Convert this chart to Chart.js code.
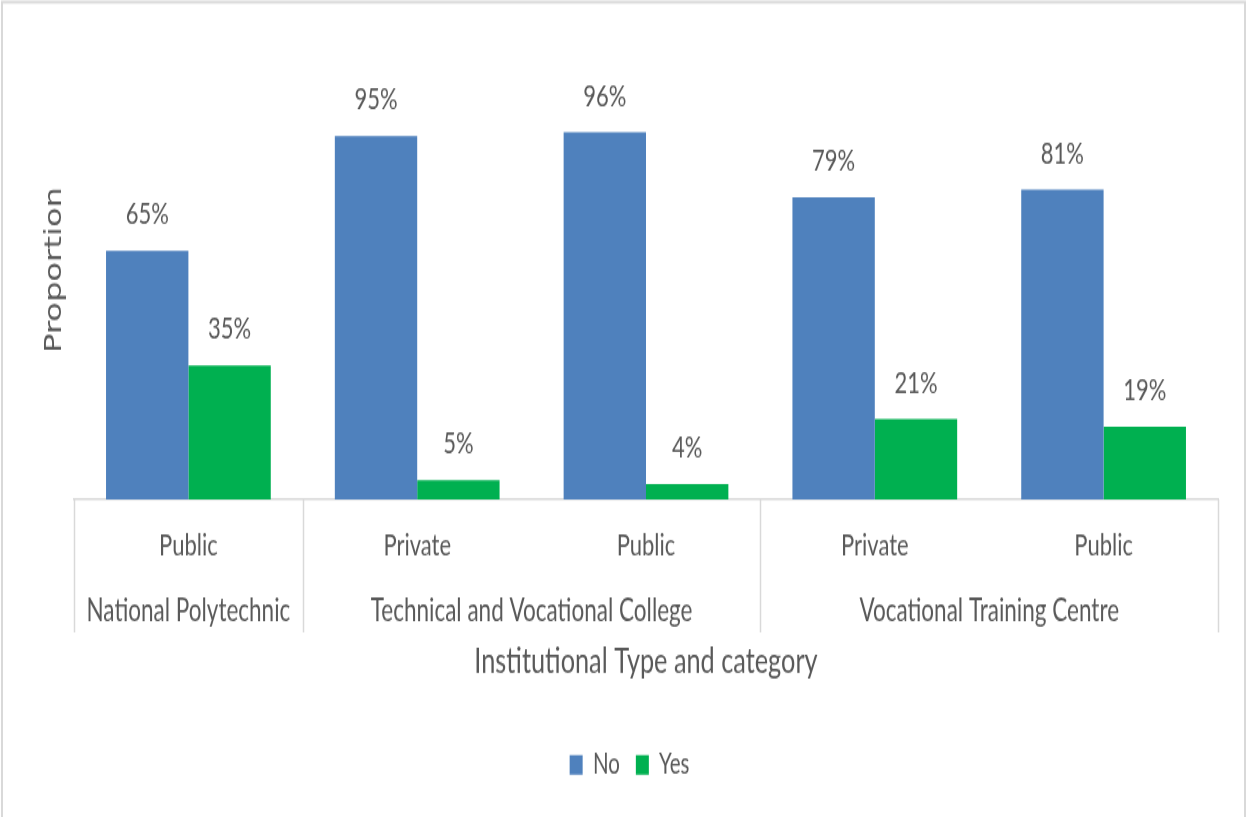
<!DOCTYPE html>
<html>
<head>
<meta charset="utf-8">
<title>Institutional Type and category</title>
<script src="https://cdn.jsdelivr.net/npm/chart.js@4"></script>
<style>
  html, body { margin: 0; padding: 0; background: #fff; overflow: hidden; }
  /* drawn at 584px tall, shown stretched to 817px */
  #chart { display: block; width: 1247px; height: 817px; }
</style>
</head>
<body>
<canvas id="chart" width="1247" height="584" style="width:1247px;height:817px"></canvas>
<script>
// categories, groups and series
const subCategories = ["Public", "Private", "Public", "Private", "Public"];
const groupNames = ["National Polytechnic", "Technical and Vocational College", "Vocational Training Centre"];
const groupSizes = [1, 2, 2];
const noValues = [65, 95, 96, 79, 81];
const yesValues = [35, 5, 4, 21, 19];

const textColor = "#595959";
const lineColor = "#d9d9d9";
const fontFamily = "Lato, 'Liberation Sans', sans-serif";

Chart.defaults.font.family = fontFamily;

// white page with a thin frame (top, left, right)
const frame = {
    id: "frame",
    beforeDraw(chart) {
        const ctx = chart.ctx;
        const w = chart.width;
        ctx.save();
        ctx.fillStyle = "#fff";
        ctx.fillRect(0, 0, w, chart.height);
        ctx.strokeStyle = lineColor;
        ctx.lineWidth = 2;
        ctx.beginPath();
        ctx.moveTo(2, chart.height);
        ctx.lineTo(2, 1.5);
        ctx.lineTo(w - 2, 1.5);
        ctx.lineTo(w - 2, chart.height);
        ctx.stroke();
        ctx.restore();
    }
};

// percent values over each bar
const barValues = {
    id: "barValues",
    afterDatasetsDraw(chart) {
        const ctx = chart.ctx;
        ctx.save();
        ctx.fillStyle = textColor;
        ctx.font = "22px " + fontFamily;
        ctx.textAlign = "center";
        ctx.textBaseline = "middle";
        chart.data.datasets.forEach((ds, i) => {
            chart.getDatasetMeta(i).data.forEach((bar, j) => {
                ctx.fillText(ds.data[j] + "%", bar.x, bar.y - 26);
            });
        });
        ctx.restore();
    }
};

// group names under the category labels, with dividers
const groupAxis = {
    id: "groupAxis",
    afterDraw(chart) {
        const ctx = chart.ctx;
        const x = chart.scales.x;
        const area = chart.chartArea;
        const edge = (i) => {
            if (i <= 0) return area.left;
            if (i >= subCategories.length) return area.right;
            return (x.getPixelForValue(i - 1) + x.getPixelForValue(i)) / 2;
        };
        ctx.save();
        ctx.strokeStyle = lineColor;
        ctx.lineWidth = 1.5;
        ctx.fillStyle = textColor;
        ctx.font = "22.5px " + fontFamily;
        ctx.textAlign = "center";
        ctx.textBaseline = "middle";
        let start = 0;
        const cuts = [0];
        groupNames.forEach((name, g) => {
            const end = start + groupSizes[g];
            ctx.fillText(name, (edge(start) + edge(end)) / 2, area.bottom + 80);
            cuts.push(end);
            start = end;
        });
        cuts.forEach(c => {
            const px = Math.round(edge(c)) + 0.5;
            ctx.beginPath();
            ctx.moveTo(px, area.bottom);
            ctx.lineTo(px, area.bottom + 95);
            ctx.stroke();
        });
        ctx.restore();
    }
};

const context = document.getElementById("chart").getContext("2d");
const chart = new Chart(context, {
    type: "bar",
    data: {
        labels: subCategories,
        datasets: [{
            label: "No",
            data: noValues,
            backgroundColor: "#4f81bd"
        }, {
            label: "Yes",
            data: yesValues,
            backgroundColor: "#00b050"
        }]
    },
    options: {
        responsive: false,
        animation: false,
        categoryPercentage: 0.72,
        barPercentage: 1,
        layout: { padding: { left: 12, right: 0, top: 29, bottom: 17 } },
        plugins: {
            tooltip: { enabled: false },
            legend: {
                position: "bottom",
                labels: {
                    boxWidth: 13,
                    boxHeight: 14,
                    padding: 16,
                    color: textColor,
                    font: { size: 20.5 }
                }
            }
        },
        scales: {
            x: {
                grid: { display: false, drawTicks: false },
                border: { display: true, color: lineColor, width: 1.5 },
                ticks: { color: textColor, font: { size: 22 }, padding: 20, autoSkip: false, maxRotation: 0 },
                title: {
                    display: true,
                    text: "Institutional Type and category",
                    color: textColor,
                    font: { size: 25.3 },
                    padding: { top: 0, bottom: 32.5 }
                },
                afterFit(scale) { scale.height = 163.5; }
            },
            y: {
                min: 0,
                max: 120,
                grid: { display: false },
                border: { display: false },
                ticks: { display: false },
                title: {
                    display: true,
                    text: "Proportion",
                    color: textColor,
                    font: { family: "'DejaVu Sans', sans-serif", size: 23 },
                    padding: { top: 29, bottom: 0 }
                },
                afterFit(scale) { scale.width = 62; }
            },
            // empty axis that keeps a margin on the right of the plot
            yRight: {
                position: "right",
                grid: { display: false },
                border: { display: false },
                ticks: { display: false },
                afterFit(scale) { scale.width = 29; }
            }
        }
    },
    plugins: [frame, barValues, groupAxis]
});
</script>
</body>
</html>
